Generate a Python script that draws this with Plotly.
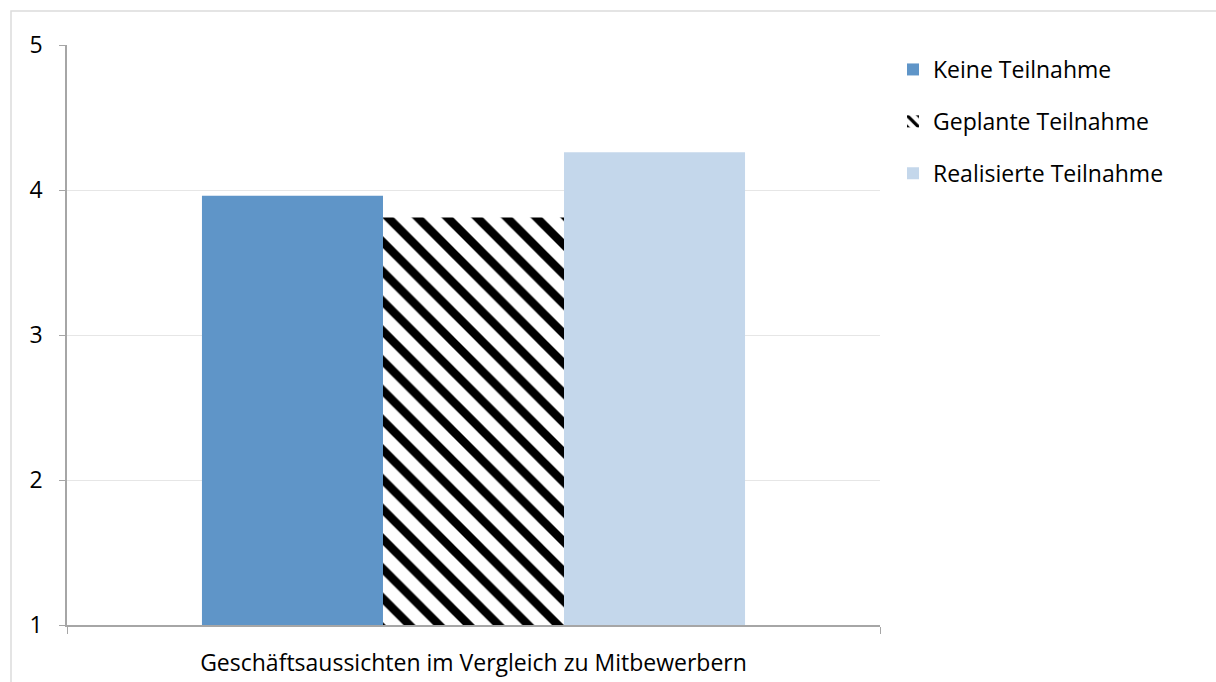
import plotly.graph_objects as go

categories = ["Geschäftsaussichten im Vergleich zu Mitbewerbern"]
series_names = ["Keine Teilnahme", "Geplante Teilnahme", "Realisierte Teilnahme"]
keine = [3.96]
geplant = [3.81]
realisiert = [4.26]
y_ticks = [1, 2, 3, 4, 5]

FONT = "Open Sans"
FS = 23
W, H = 1216, 682
L, R, T, B = 67, 336, 45, 57

fig = go.Figure()
fig.add_trace(go.Bar(x=categories, y=keine, name=series_names[0],
                     marker=dict(color="#5f95c8", line=dict(width=0)), legendgroup="a"))
fig.add_trace(go.Bar(x=categories, y=geplant, name=series_names[1],
                     marker=dict(color="white", line=dict(width=0),
                                 pattern=dict(shape="\\", fgcolor="black", bgcolor="white",
                                              size=21, solidity=0.4, fillmode="replace")),
                     legendgroup="b"))
fig.add_trace(go.Bar(x=categories, y=realisiert, name=series_names[2],
                     marker=dict(color="#c4d7eb", line=dict(width=0)), legendgroup="c"))

pw = W - L - R
ph = H - T - B
fig.add_shape(type="rect", xref="paper", yref="paper",
              x0=(11 - L) / pw, x1=(1240 - L) / pw,
              y0=(H - 700 - B) / ph, y1=(H - 11 - B) / ph,
              line=dict(color="#dcdcdc", width=1.5), fillcolor="rgba(0,0,0,0)", layer="below")

fig.update_layout(
    width=W, height=H,
    margin=dict(l=L, r=R, t=T, b=B, pad=0, autoexpand=False),
    paper_bgcolor="white", plot_bgcolor="white",
    font=dict(family=FONT, size=FS, color="black"),
    barmode="group", bargap=0.332, bargroupgap=0,
    showlegend=True,
    legend=dict(x=(893 - L) / pw, y=1 - (48 - T) / ph, xanchor="left", yanchor="top",
                font=dict(family=FONT, size=FS, color="black"),
                tracegroupgap=19, bgcolor="rgba(0,0,0,0)", itemwidth=30),
    xaxis=dict(type="category", range=[-0.5, 0.5], showline=True, linecolor="#a6a6a6",
               linewidth=1.5, ticks="outside", tickson="boundaries", ticklen=7,
               tickcolor="#a6a6a6", showgrid=False, ticklabelstandoff=17, automargin=False,
               tickfont=dict(family=FONT, size=FS, color="black")),
    yaxis=dict(range=[1, 5], tickvals=y_ticks, showline=True, linecolor="#a6a6a6",
               linewidth=1.5, ticks="outside", ticklen=6, tickcolor="#a6a6a6",
               showgrid=True, gridcolor="#e6e6e6", gridwidth=1, zeroline=False,
               ticklabelstandoff=12, automargin=False,
               tickfont=dict(family=FONT, size=FS, color="black")),
)

fig.write_html("out.html")
